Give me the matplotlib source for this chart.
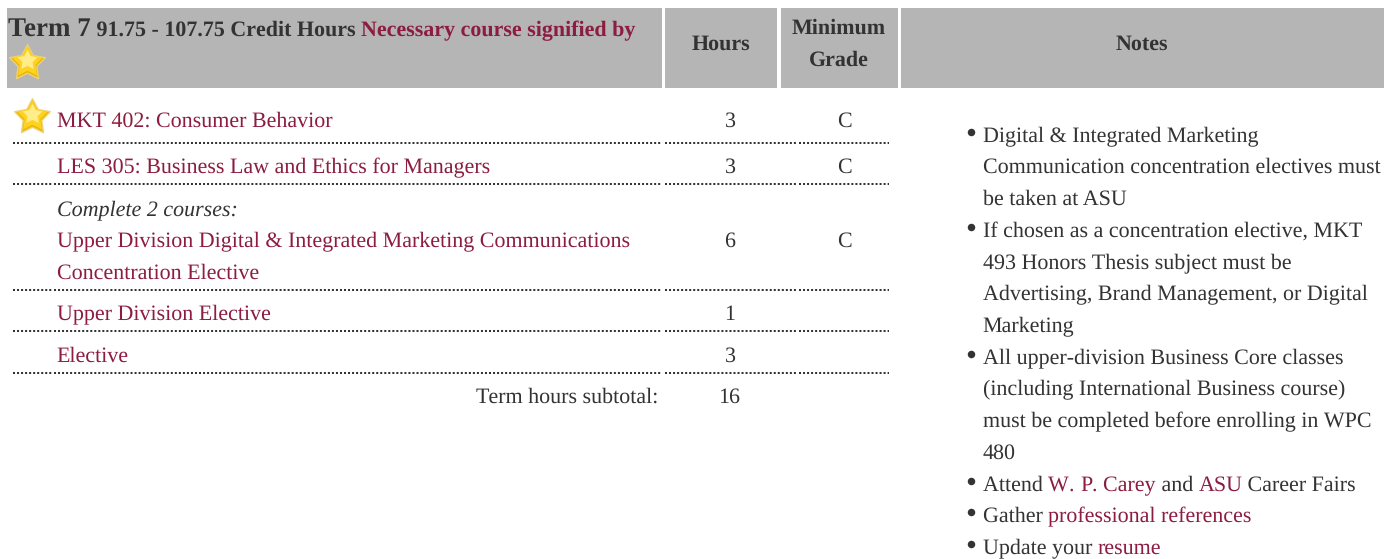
#!/usr/bin/env python3
import matplotlib
matplotlib.use("Agg")
import matplotlib.pyplot as plt
from matplotlib.path import Path

WIDTH = 1384
HEIGHT = 559
DARK = "#333333"
MAROON = "#8c1d40"
GREY = "#b5b5b5"

# table values
courses = [
    "MKT 402: Consumer Behavior",
    "LES 305: Business Law and Ethics for Managers",
    "Upper Division Digital & Integrated Marketing Communications",
    "Concentration Elective",
    "Upper Division Elective",
    "Elective",
]
course_hours = ["3", "3", "6", "1", "3"]
course_grades = ["C", "C", "C", "", ""]
subtotal_label = "Term hours subtotal:"
subtotal_value = "16"
complete_label = "Complete 2 courses:"

# each note line is a list of (text, is_link), first line of a bullet flagged
notes = [
    (True, [("Digital & Integrated Marketing", False)]),
    (False, [("Communication concentration electives must", False)]),
    (False, [("be taken at ASU", False)]),
    (True, [("If chosen as a concentration elective, MKT", False)]),
    (False, [("493 Honors Thesis subject must be", False)]),
    (False, [("Advertising, Brand Management, or Digital", False)]),
    (False, [("Marketing", False)]),
    (True, [("All upper-division Business Core classes", False)]),
    (False, [("(including International Business course)", False)]),
    (False, [("must be completed before enrolling in WPC", False)]),
    (False, [("480", False)]),
    # W and P are split off so the kerning does not pull the link shorter
    (True, [("Attend ", False), ("W", True), (". ", True), ("P", True), (". Carey", True), (" and ", False),
            ("ASU", True), (" Career Fairs", False)]),
    (True, [("Gather ", False), ("professional references", True)]),
    (True, [("Update your ", False), ("resume", True)]),
]

# layout in pixels
note_baselines = [142, 173, 205, 237, 268.7, 300, 332, 363.7, 395, 427, 459, 491, 522, 554]
course_baselines = [127, 173, 247, 279, 319.7, 362]
value_baselines = [127, 173, 247, 320, 362]
dotted_rows = [143, 184, 290, 331, 373]
dotted_spans = [(13, 52), (54, 662), (665, 796), (799, 889)]
header_boxes = [(7, 662), (665, 777), (781, 898), (901, 1384)]

plt.rcParams["font.family"] = ["Liberation Serif", "DejaVu Serif"]
plt.rcParams["text.hinting"] = "no_hinting"
plt.rcParams["text.hinting_factor"] = 1

STAR = Path.unit_regular_star(5, innerCircle=0.52)


def px(size):
    # css pixels to points at dpi 100
    return size * 0.72


def draw_runs(ax, x, y, runs, **kw):
    # draw pieces of text after each other on one baseline
    renderer = ax.figure.canvas.get_renderer()
    for text, color in runs:
        t = ax.text(x, y, text, color=color, va="baseline", ha="left", **kw)
        x += t.get_window_extent(renderer).width
    return x


def draw_star(ax, x, y):
    # layered fills for the glossy look of the icon
    ax.plot([x], [y], marker=STAR, ms=27, mfc="#e9b700", mec="#ecd27a", mew=1.0, zorder=3)
    ax.plot([x], [y - 1], marker=STAR, ms=23, mfc="#ffd21f", mec="none", zorder=4)
    ax.plot([x], [y - 3], marker=STAR, ms=15, mfc="#ffec8a", mec="none", zorder=5)


fig = plt.figure(figsize=(WIDTH / 100, HEIGHT / 100), dpi=100)
ax = fig.add_axes([0, 0, 1, 1])
ax.set_xlim(0, WIDTH)
ax.set_ylim(HEIGHT, 0)
ax.axis("off")

# header
for left, right in header_boxes:
    ax.fill_between([left, right], 8, 88, color=GREY, lw=0)

end = draw_runs(ax, 8, 36, [("Term 7", DARK)], fontsize=px(26.6), fontweight="bold")
draw_runs(ax, end, 36, [(" 91.75 - 107.75 Credit Hours ", DARK), ("Necessary course signified by", MAROON)],
          fontsize=px(22), fontweight="bold")
draw_star(ax, 27, 63)
head = dict(color=DARK, fontsize=px(22), fontweight="bold", ha="center", va="baseline")
ax.text(721, 50, "Hours", **head)
ax.text(839, 34, "Minimum", **head)
ax.text(839, 66, "Grade", **head)
ax.text(1142, 50, "Notes", **head)

# course rows
body = dict(fontsize=px(22), va="baseline")
for name, y in zip(courses, course_baselines):
    ax.text(56.8, y, name, color=MAROON, ha="left", **body)
ax.text(57, 215, complete_label, color=DARK, ha="left", style="italic", **body)
for hours, grade, y in zip(course_hours, course_grades, value_baselines):
    ax.text(730, y, hours, color=DARK, ha="center", **body)
    ax.text(844.5, y, grade, color=DARK, ha="center", **body)
draw_star(ax, 32, 117)

for y in dotted_rows:
    for left, right in dotted_spans:
        ax.plot([left, right], [y, y], color=DARK, lw=1.45, ls=(0, (1, 1)), solid_capstyle="butt")

ax.text(658.5, 403, subtotal_label, color=DARK, ha="right", **body)
ax.text(729.5, 403, subtotal_value, color=DARK, ha="center", **body)

# notes list
for (bullet, parts), y in zip(notes, note_baselines):
    if bullet:
        ax.plot([971], [y - 10], marker="o", ms=5.4, color=DARK, mew=0)
    draw_runs(ax, 982.8, y, [(t, MAROON if link else DARK) for t, link in parts], fontsize=px(22))

fig.savefig("out.png", dpi=100)
plt.close(fig)
